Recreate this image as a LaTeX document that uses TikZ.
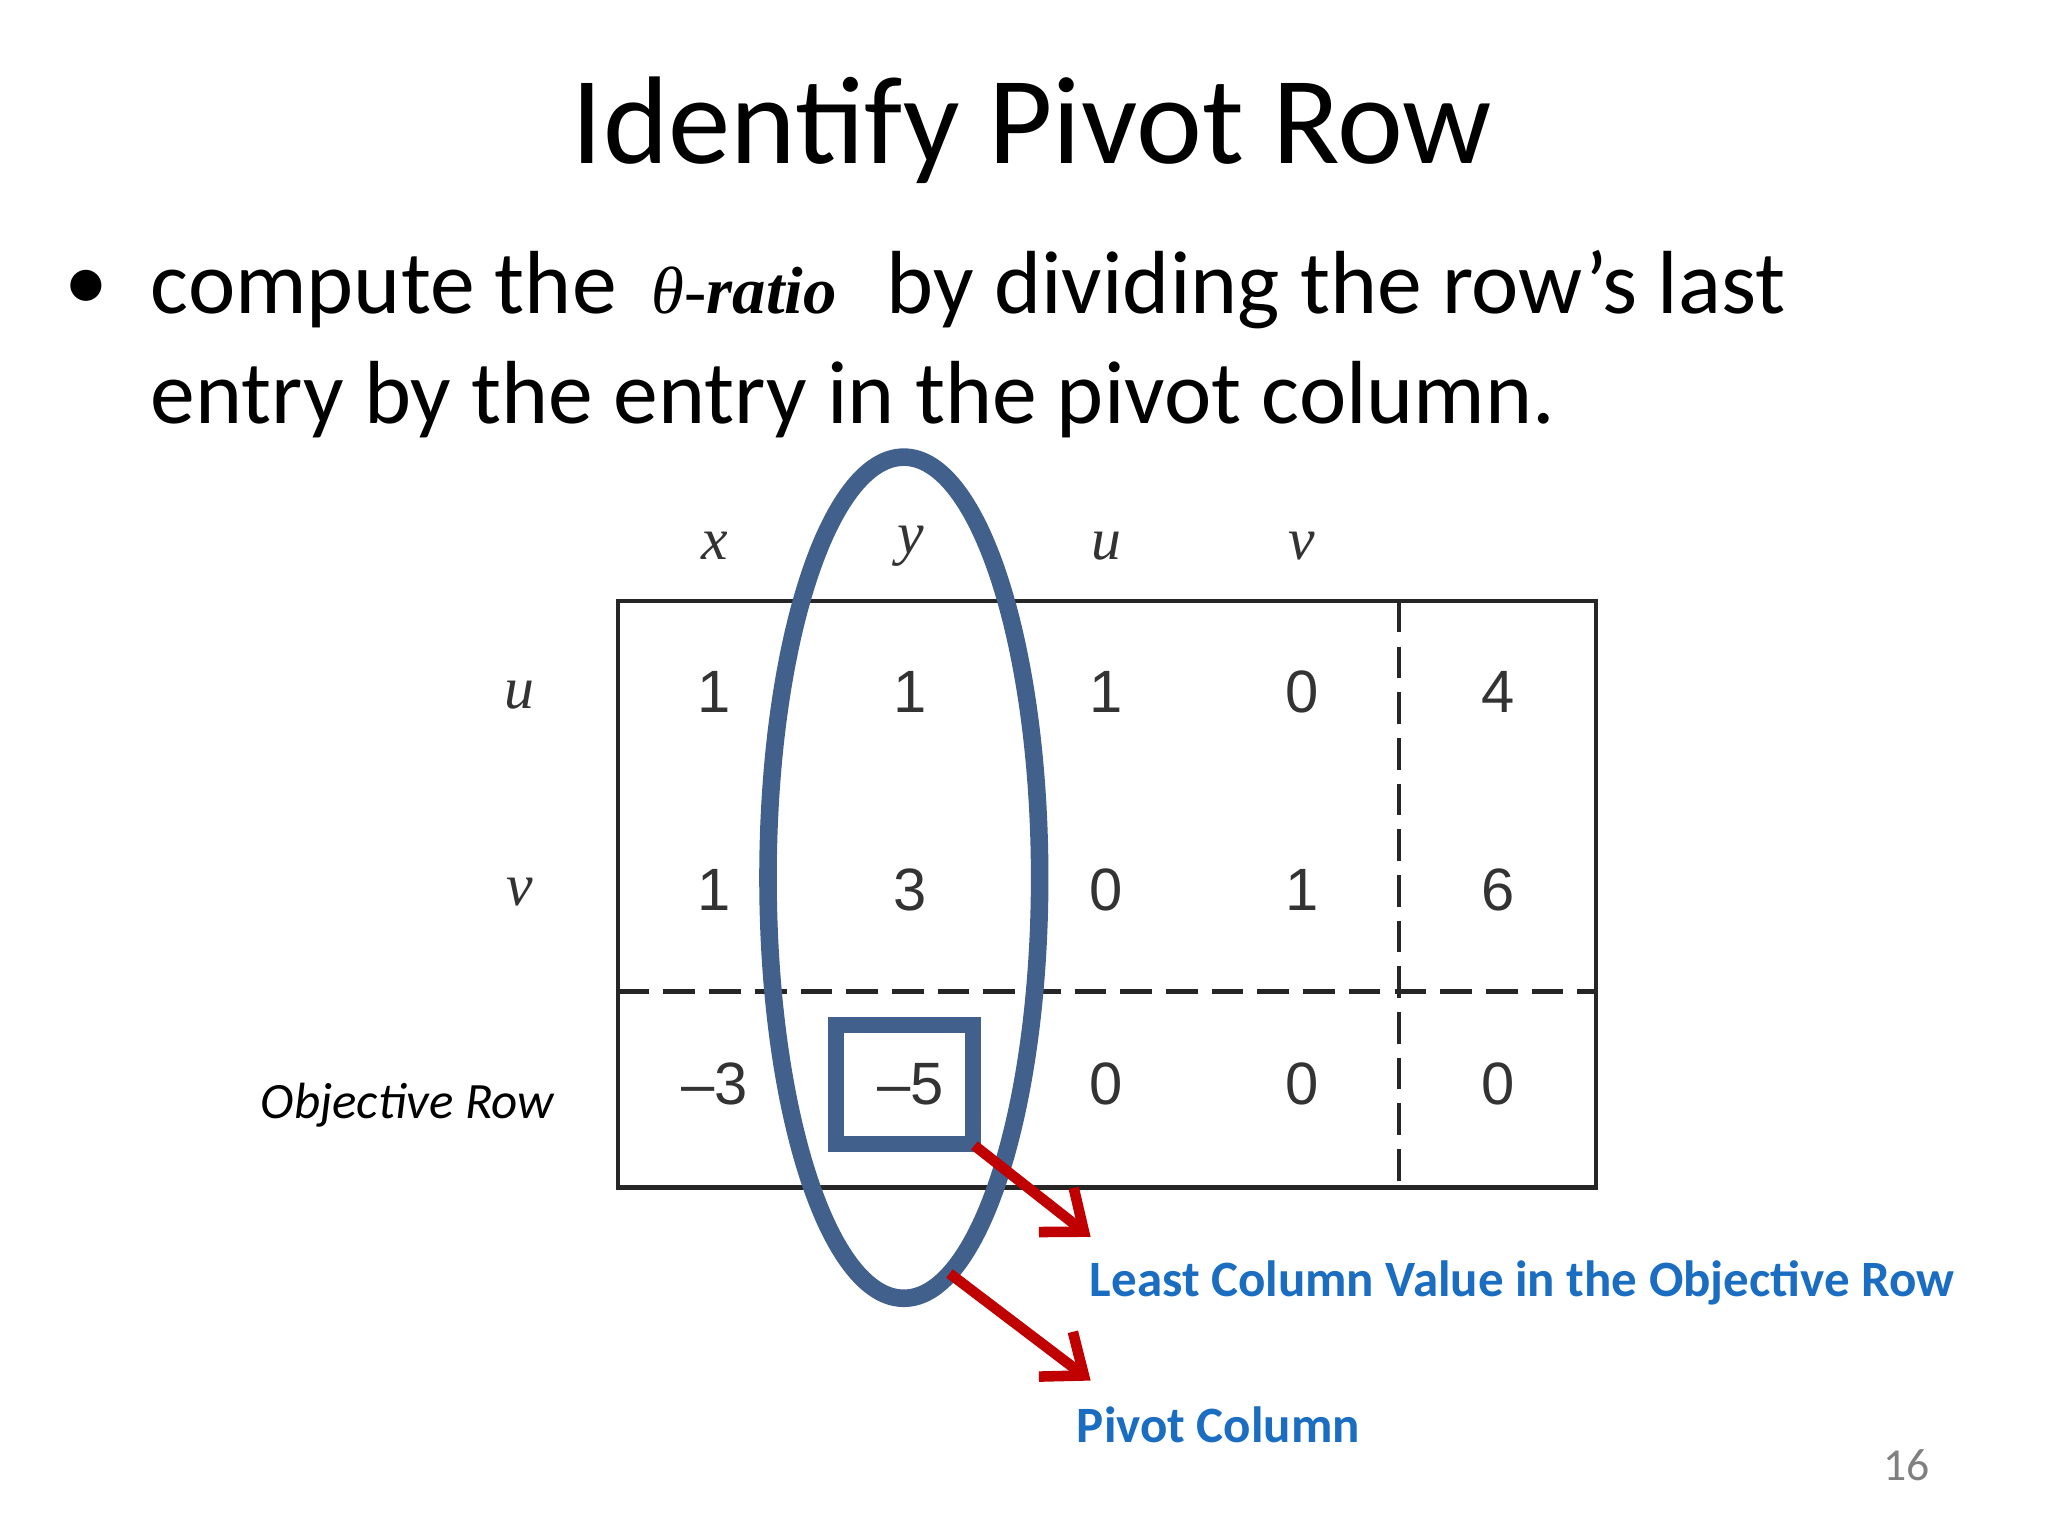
\documentclass[tikz,border=0pt]{standalone}
\usepackage{fontspec}
\setmainfont{Carlito}
\newfontfamily\numfont{Liberation Sans}
\newfontfamily\serfont{Liberation Serif}
\usetikzlibrary{arrows.meta}
\definecolor{ellblue}{HTML}{41608C}
\definecolor{lblblue}{HTML}{1A6DC0}
\definecolor{arrred}{HTML}{C00000}
\begin{document}
\begin{tikzpicture}[x=0.01306cm,y=-0.01306cm,
  num/.style={font=\numfont\fontsize{17}{20}\selectfont,text=black!80},
  hdr/.style={font=\serfont\itshape\fontsize{17}{20}\selectfont,text=black!80},
  lbl/.style={font=\bfseries\fontsize{14.5}{18}\selectfont,text=lblblue,anchor=west},
  redarr/.style={draw=arrred,line width=3pt,-{Straight Barb[length=10pt,width=16pt]}}]
\useasboundingbox[fill=white] (0,0) rectangle (1568,1176);
\node (title) at (790,100) {\fontsize{35.5}{42}\selectfont Identify Pivot Row};
\node (bul) at (66,222) {\fontsize{25}{30}\selectfont\textbullet};
\node[anchor=base west,inner sep=0pt] (l1) at (115,240) {\fontsize{25.5}{30}\selectfont compute the \,{\serfont\fontsize{19}{24}\selectfont\textit{θ}-\textbf{\textit{ratio}}}\,\, by dividing the row’s last};
\node[anchor=base west,inner sep=0pt] (l2) at (115,324) {\fontsize{25.5}{30}\selectfont entry by the entry in the pivot column.};
% table
\draw[line width=1.3pt,black!85] (473,460) rectangle (1222,909);
\draw[line width=1.3pt,black!85,dashed,dash pattern=on 9pt off 4pt] (1071,460) -- (1071,909);
\draw[line width=1.3pt,black!85,dashed,dash pattern=on 9pt off 4pt] (473,759) -- (1222,759);
\foreach \t [count=\i] in {x,y,u,v}
  \node[hdr] (h\i) at ({397+150*\i},418) {\t};
\node[hdr] (ru) at (398,532) {u};
\node[hdr] (rv) at (398,683) {v};
\node[font=\itshape\fontsize{14.5}{18}\selectfont] (obj) at (312,846) {Objective Row};
\foreach \r/\y/\vals in {1/530/{1,1,1,0,4},2/681/{1,3,0,1,6},3/830/{–3,–5,0,0,0}}
  \foreach \v [count=\c] in \vals
    \node[num] (c\r\c) at ({397+150*\c},\y) {\v};
% ellipse and box
\draw[ellblue,line width=5pt] (692,672) ellipse [x radius=104, y radius=322];
\draw[ellblue,line width=4.5pt] (640,785) rectangle (745,876);
\coordinate (bx) at (746,877);
\coordinate (el) at (727,975);
\node[lbl] (least) at (825,982) {Least Column Value in the Objective Row};
\node[lbl] (piv) at (815,1091) {Pivot Column};
\draw[redarr] (bx) -- (835,947);
\draw[redarr] (el) -- (835,1057);
\node[text=black!50,font=\fontsize{13}{15}\selectfont] (pg) at (1460,1122) {16};
\end{tikzpicture}
\end{document}
